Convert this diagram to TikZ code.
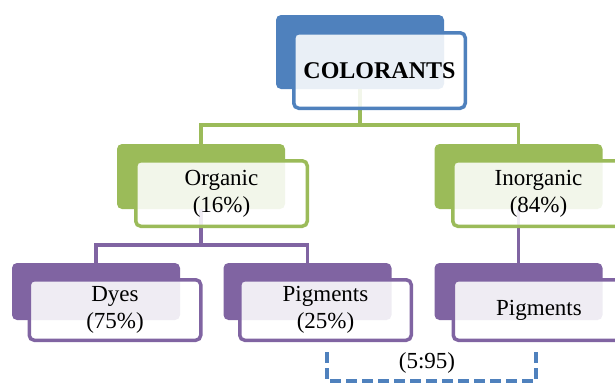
\documentclass[tikz,border=0pt]{standalone}
\usepackage{fontspec}
\setmainfont{Liberation Serif}
\definecolor{artblue}{HTML}{4F81BD}
\definecolor{artgreen}{HTML}{9BBB59}
\definecolor{artpurple}{HTML}{8064A2}
\begin{document}
\begin{tikzpicture}[x=1pt, y=-1pt,
    back/.style={fill=#1, rounded corners=5pt, minimum width=168pt, inner sep=0pt},
    front/.style={draw=#1, line width=3.5pt, rounded corners=5pt, fill=white, fill opacity=.88, text opacity=1,
        minimum width=171.5pt, inner sep=0pt, align=center, font=\fontsize{23}{27}\selectfont},
    link/.style={draw=#1, line width=3.5pt}]
    \useasboundingbox (0,0) rectangle (615,383);
    \clip (0,0) rectangle (615,383);
% back boxes
\node[back=artblue, minimum height=74pt] (colback) at (360,52) {};
\node[back=artgreen, minimum height=65pt] (orgback) at (201,176.5) {};
\node[back=artgreen, minimum height=65pt] (inorgback) at (518.5,176.5) {};
\node[back=artpurple, minimum height=57pt] (dyesback) at (96,291.5) {};
\node[back=artpurple, minimum height=57pt] (pigback) at (307.5,291.5) {};
\node[back=artpurple, minimum height=57pt] (inpigback) at (518.5,291.5) {};
% links
\coordinate (greenjoint) at (360,125);
\draw[link=artgreen] (colback.south) -- (greenjoint);
\draw[link=artgreen] (orgback.north) |- (greenjoint) -| (inorgback.north);
\coordinate (purplejoint) at (201,245);
\draw[link=artpurple] (orgback.south) -- (purplejoint);
\draw[link=artpurple] (dyesback.north) |- (purplejoint) -| (pigback.north);
\draw[link=artpurple] (inorgback.south) -- (inpigback.north);
% front boxes
\node[front=artblue, minimum height=75.5pt, font=\fontsize{24}{27}\selectfont] (colorants) at (379.5,70.5) {\textbf{COLORANTS}};
\node[front=artgreen, minimum height=65.5pt] (organic) at (221.5,193.5) {Organic\\(16\%)};
\node[front=artgreen, minimum height=65.5pt] (inorganic) at (538.5,193.5) {Inorganic\\(84\%)};
\node[front=artpurple, minimum height=60.5pt] (dyes) at (115,310) {Dyes\\(75\%)};
\node[front=artpurple, minimum height=60.5pt] (pigments) at (325.5,310) {Pigments\\(25\%)};
\node[front=artpurple, minimum height=60.5pt] (inpigments) at (539,310) {Pigments};
% ratio bracket
\coordinate (ratioleft) at (327,352);
\coordinate (ratioright) at (536,352);
\draw[link=artblue, dash pattern=on 11pt off 5pt] (ratioleft) -- ++(0,29) -| (ratioright);
\node[font=\fontsize{23}{27}\selectfont] (ratio) at (427,363) {(5:95)};
\end{tikzpicture}
\end{document}
